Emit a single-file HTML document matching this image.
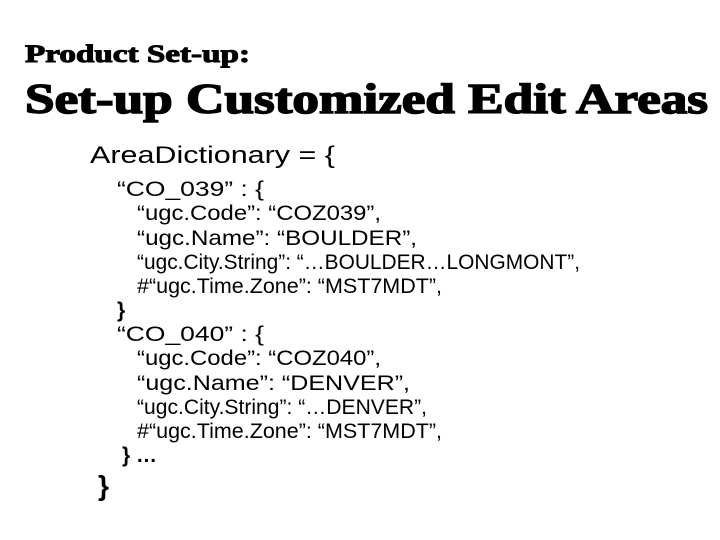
<!DOCTYPE html>
<html><head><meta charset="utf-8"><style>
html,body{margin:0;padding:0;background:#fff;width:720px;height:540px;overflow:hidden}
svg{display:block}
.t{font-family:"Liberation Serif",serif;font-weight:bold;fill:#000;stroke:#000;stroke-width:1}
.s{font-family:"Liberation Sans",Arial,sans-serif;fill:#000;font-size:21px}
</style></head><body>
<svg width="720" height="540" xmlns="http://www.w3.org/2000/svg">
<text class="t" x="25" y="62" font-size="25" textLength="225" lengthAdjust="spacingAndGlyphs">Product Set-up:</text>
<text class="t" x="25" y="113" font-size="42" style="stroke-width:1.5" textLength="683" lengthAdjust="spacingAndGlyphs">Set-up Customized Edit Areas</text>
<text class="s" x="90" y="163" style="font-size:24px" textLength="245" lengthAdjust="spacingAndGlyphs">AreaDictionary = {</text>
<text class="s" x="117" y="196" textLength="147" lengthAdjust="spacingAndGlyphs">“CO_039” : {</text>
<text class="s" x="137" y="220" textLength="244" lengthAdjust="spacingAndGlyphs">“ugc.Code”: “COZ039”,</text>
<text class="s" x="137" y="245" textLength="280" lengthAdjust="spacingAndGlyphs">“ugc.Name”: “BOULDER”,</text>
<text class="s" x="137" y="269" textLength="443" lengthAdjust="spacingAndGlyphs">“ugc.City.String”: “…BOULDER…LONGMONT”,</text>
<text class="s" x="137" y="293" textLength="305" lengthAdjust="spacingAndGlyphs">#“ugc.Time.Zone”: “MST7MDT”,</text>
<text class="s" x="117" y="317" style="font-weight:bold">}</text>
<text class="s" x="117" y="341" textLength="147" lengthAdjust="spacingAndGlyphs">“CO_040” : {</text>
<text class="s" x="137" y="365" textLength="244" lengthAdjust="spacingAndGlyphs">“ugc.Code”: “COZ040”,</text>
<text class="s" x="137" y="390" textLength="273" lengthAdjust="spacingAndGlyphs">“ugc.Name”: “DENVER”,</text>
<text class="s" x="137" y="414" textLength="290" lengthAdjust="spacingAndGlyphs">“ugc.City.String”: “…DENVER”,</text>
<text class="s" x="137" y="438" textLength="305" lengthAdjust="spacingAndGlyphs">#“ugc.Time.Zone”: “MST7MDT”,</text>
<text class="s" x="122" y="462" style="font-weight:bold">}  …</text>
<text class="s" x="98" y="495" style="font-size:28px;font-weight:bold">}</text>
</svg>
</body></html>
